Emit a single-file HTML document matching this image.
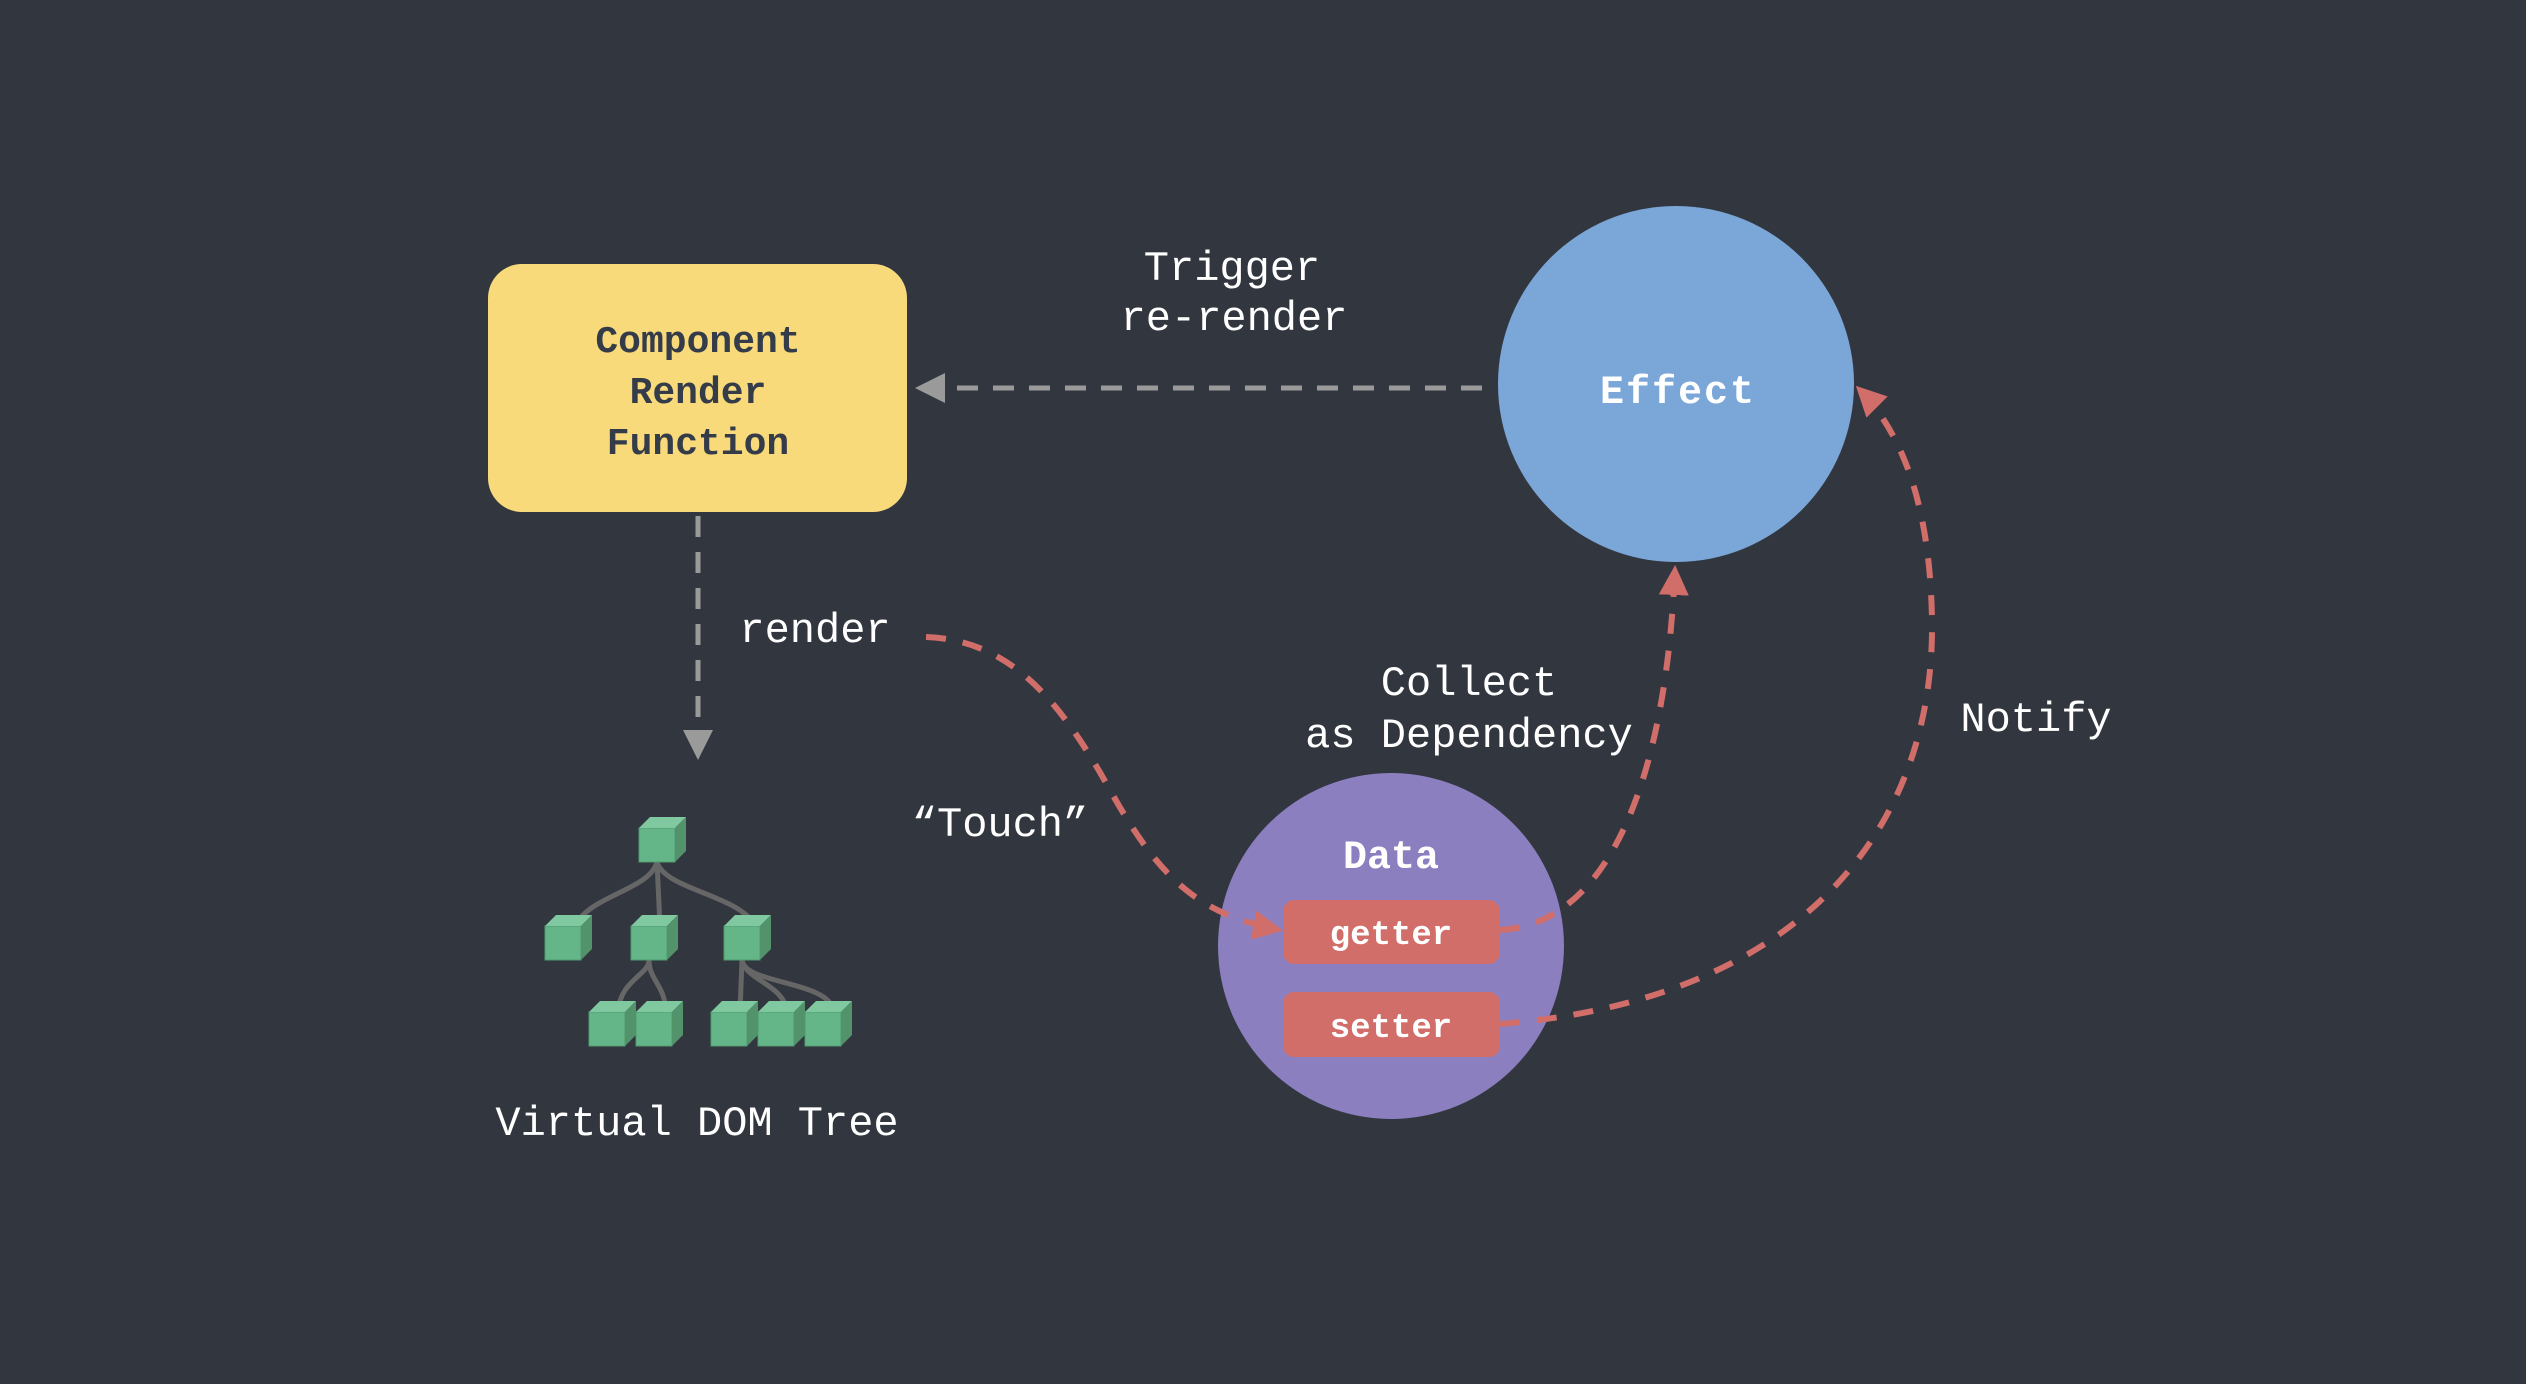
<!DOCTYPE html>
<html><head><meta charset="utf-8"><style>
html,body{margin:0;padding:0;background:#32363f;}
svg{display:block}
text{font-family:"Liberation Mono",monospace;}
</style></head><body>
<svg width="2526" height="1384" viewBox="0 0 2526 1384" xmlns="http://www.w3.org/2000/svg">
<defs>
<marker id="ag" viewBox="0 0 10 10" refX="9" refY="5" markerWidth="6" markerHeight="6" orient="auto" markerUnits="strokeWidth"><path d="M0 0L10 5L0 10z" fill="#9a9a9a"/></marker>
<marker id="ar" viewBox="0 0 10 10" refX="9" refY="5" markerWidth="5" markerHeight="5" orient="auto" markerUnits="strokeWidth"><path d="M0 0L10 5L0 10z" fill="#d16e6a"/></marker>
<g id="cube"><path d="M0 0h36v34h-36z" fill="#64b688" stroke="#4f9a6e" stroke-width="1"/><path d="M0 0l11-11h36l-11 11z" fill="#80c8a0"/><path d="M36 0l11-11v34l-11 11z" fill="#52936c"/></g>
</defs>
<rect width="2526" height="1384" fill="#32363f"/>

<!-- Component box -->
<rect x="488" y="264" width="419" height="248" rx="34" fill="#f8da7a"/>
<g font-size="38" font-weight="bold" fill="#353c49" text-anchor="middle">
<text x="698" y="352">Component</text>
<text x="698" y="403">Render</text>
<text x="698" y="454">Function</text>
</g>

<!-- Effect -->
<circle cx="1676" cy="384" r="178" fill="#7ba6d8"/>
<text x="1678" y="403" font-size="40" font-weight="bold" fill="#fff" text-anchor="middle" letter-spacing="2">Effect</text>

<!-- Data -->
<circle cx="1391" cy="946" r="173" fill="#8b7fbf"/>
<text x="1391" y="868" font-size="40" font-weight="bold" fill="#fff" text-anchor="middle">Data</text>
<rect x="1283" y="900" width="217" height="64" rx="11" fill="#d16e6a"/>
<rect x="1283" y="992" width="217" height="65" rx="11" fill="#d16e6a"/>
<g font-size="34" font-weight="bold" fill="#fff" text-anchor="middle">
<text x="1391" y="944">getter</text>
<text x="1391" y="1037">setter</text>
</g>

<!-- gray arrows -->
<g stroke="#9a9a9a" stroke-width="5" fill="none" stroke-dasharray="21 15">
<path d="M1482 388 L918 388" marker-end="url(#ag)"/>
<path d="M698 516 L698 757" marker-end="url(#ag)"/>
</g>

<!-- red arrows -->
<g stroke="#d16e6a" stroke-width="6" fill="none" stroke-dasharray="20 17">
<path d="M926 637 C1010 640 1060 700 1110 790 C1160 880 1200 915 1280 930" marker-end="url(#ar)"/>
<path d="M1500 930 C1600 925 1665 800 1675 568" marker-end="url(#ar)"/>
<path d="M1500 1024 C1800 1000 1935 830 1932 620 C1930 500 1900 430 1858 388" marker-end="url(#ar)"/>
</g>

<!-- tree -->
<g stroke="#666" stroke-width="5" fill="none">
<path d="M657 862 C650 890 590 895 575 926"/>
<path d="M657 862 L660 926"/>
<path d="M657 862 C665 890 740 895 755 926"/>
<path d="M649 960 C649 975 620 980 618 1012"/>
<path d="M649 960 C649 980 665 985 666 1012"/>
<path d="M742 960 L740 1012"/>
<path d="M742 960 C745 980 785 985 787 1012"/>
<path d="M742 960 C745 985 830 980 834 1012"/>
</g>
<use href="#cube" x="639" y="828"/>
<use href="#cube" x="545" y="926"/>
<use href="#cube" x="631" y="926"/>
<use href="#cube" x="724" y="926"/>
<use href="#cube" x="589" y="1012"/>
<use href="#cube" x="636" y="1012"/>
<use href="#cube" x="711" y="1012"/>
<use href="#cube" x="758" y="1012"/>
<use href="#cube" x="805" y="1012"/>

<!-- labels -->
<g font-size="42" fill="#fff" text-anchor="middle">
<text x="697" y="1135">Virtual DOM Tree</text>
<text x="1232" y="280">Trigger</text>
<text x="1234" y="330">re-render</text>
<text x="815" y="642">render</text>
<text x="1000" y="836">“Touch”</text>
<text x="1469" y="695">Collect</text>
<text x="1469" y="747">as Dependency</text>
<text x="2036" y="731">Notify</text>
</g>
</svg>
</body></html>
